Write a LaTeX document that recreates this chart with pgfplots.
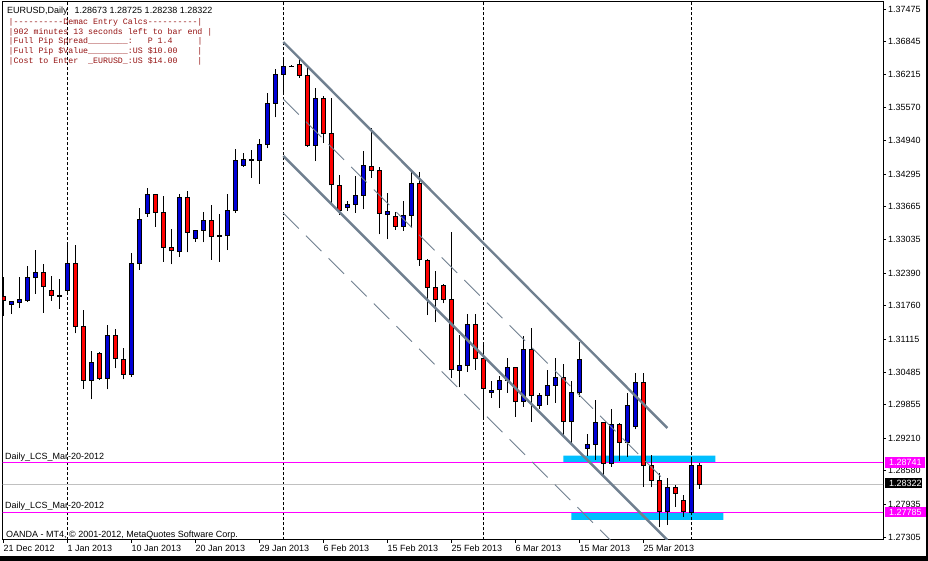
\documentclass[border=0pt]{standalone}
\usepackage{pgfplots}
\pgfplotsset{compat=1.18}
\usepackage{pgfplotstable}
\usepackage{fontspec}
\setmainfont{Liberation Sans}
\newfontfamily\monofont{Liberation Mono}
\definecolor{candleblue}{RGB}{0,0,215}
\definecolor{candlered}{RGB}{255,0,0}
\definecolor{chan}{RGB}{112,128,144}
\definecolor{mag}{RGB}{255,0,255}
\definecolor{skyb}{RGB}{0,191,255}
\definecolor{bidgray}{RGB}{192,192,192}
\definecolor{ind}{RGB}{150,20,20}
\newcommand\hy{-\kern0pt}

\pgfplotstableread{
x o h l c
1 1.31787 1.31857 1.31600 1.31832
2 1.31818 1.32319 1.31716 1.31870
3 1.31857 1.32525 1.31832 1.32307
4 1.32300 1.32833 1.31986 1.32404
8 1.32049 1.32993 1.32030 1.32577
11 1.30329 1.30888 1.29957 1.30662
13 1.30362 1.31389 1.30150 1.31190
16 1.30439 1.32770 1.30393 1.32577
17 1.32577 1.33636 1.32448 1.33411
18 1.33540 1.34022 1.33475 1.33906
22 1.32800 1.33906 1.32704 1.33848
24 1.33058 1.33220 1.32993 1.33213
25 1.33213 1.33559 1.32982 1.33405
28 1.33109 1.33906 1.32833 1.33598
29 1.33590 1.34773 1.33552 1.34561
30 1.34457 1.34696 1.34438 1.34580
32 1.34553 1.34971 1.34110 1.34869
33 1.34869 1.35857 1.34792 1.35659
34 1.35659 1.36314 1.35389 1.36217
35 1.36217 1.36493 1.35819 1.36371
39 1.34850 1.35959 1.34547 1.35755
43 1.33648 1.33777 1.33584 1.33713
44 1.33713 1.34258 1.33552 1.33887
45 1.33887 1.34740 1.33617 1.34451
48 1.33521 1.33937 1.33039 1.33579
50 1.33290 1.33783 1.33199 1.33502
51 1.33502 1.34330 1.33282 1.34118
57 1.30516 1.31196 1.30189 1.30612
58 1.30612 1.31595 1.30489 1.31402
61 1.30092 1.30310 1.29988 1.30131
62 1.30150 1.30412 1.29796 1.30323
63 1.30323 1.30759 1.30085 1.30574
65 1.29911 1.31177 1.29815 1.30907
67 1.29842 1.30073 1.29776 1.30035
68 1.30035 1.30522 1.29848 1.30227
69 1.30227 1.30747 1.29892 1.30368
71 1.29526 1.30310 1.29087 1.30092
72 1.30092 1.31067 1.30008 1.30728
73 1.29014 1.29293 1.28860 1.29091
74 1.29091 1.29940 1.28794 1.29514
76 1.28725 1.29771 1.28659 1.29476
78 1.29129 1.30073 1.28852 1.29842
79 1.29430 1.30458 1.29380 1.30285
83 1.27787 1.28436 1.27536 1.28262
86 1.27785 1.28821 1.27780 1.28673
}\bull

\pgfplotstableread{
x o h l c
0 1.31928 1.32313 1.31562 1.31851
5 1.32404 1.32564 1.31626 1.32126
6 1.32057 1.32332 1.31857 1.31953
7 1.31961 1.32269 1.31703 1.31947
9 1.32577 1.32930 1.31229 1.31356
10 1.31356 1.31678 1.30162 1.30329
12 1.30836 1.30869 1.30329 1.30362
14 1.31190 1.31312 1.30555 1.30734
15 1.30728 1.30940 1.30343 1.30439
19 1.33906 1.33912 1.33282 1.33559
20 1.33559 1.33873 1.32608 1.32877
21 1.32885 1.33238 1.32558 1.32814
23 1.33848 1.33970 1.32789 1.33174
26 1.33405 1.33700 1.32641 1.33089
27 1.33109 1.33521 1.32608 1.33097
31 1.34572 1.34753 1.34226 1.34561
36 1.36375 1.36387 1.36358 1.36365
37 1.36410 1.36551 1.36152 1.36190
38 1.36190 1.36333 1.34823 1.34842
40 1.35755 1.35794 1.34894 1.35081
41 1.35081 1.35767 1.33733 1.34085
42 1.34079 1.34278 1.33507 1.33598
46 1.34445 1.35189 1.34226 1.34368
47 1.34368 1.34432 1.33136 1.33540
49 1.33482 1.33565 1.33224 1.33290
52 1.34118 1.34330 1.32531 1.32641
53 1.32635 1.32660 1.31581 1.32115
54 1.32115 1.32429 1.31441 1.31884
55 1.32153 1.32172 1.31807 1.31884
56 1.31884 1.33186 1.30362 1.30522
59 1.31402 1.31595 1.30522 1.30734
60 1.30734 1.31017 1.29592 1.30169
64 1.30574 1.30580 1.29622 1.29911
66 1.30907 1.31337 1.29526 1.30021
70 1.30368 1.30637 1.29251 1.29526
75 1.29514 1.29520 1.28467 1.28725
77 1.29476 1.29495 1.28769 1.29129
80 1.30285 1.30458 1.28274 1.28673
81 1.28673 1.28879 1.28262 1.28397
82 1.28397 1.28532 1.27492 1.27787
84 1.28262 1.28307 1.27889 1.28147
85 1.28012 1.28114 1.27696 1.27792
87 1.28673 1.28725 1.28238 1.28322
}\bear

\begin{document}
\begin{tikzpicture}
\fill[white] (0,0) rectangle (928pt,561pt);
\begin{axis}[
  at={(2.7pt,21pt)}, anchor=south west,
  scale only axis, width=880.3pt, height=538.5pt,
  xmin=-0.075, xmax=109.96,
  ymin=1.272475, ymax=1.376195,
  axis line style={black, line width=1pt},
  tick align=outside,
  major tick length=3pt,
  tick style={black, line width=0.8pt},
  xtick pos=left, ytick pos=right,
  xticklabel pos=left, yticklabel pos=right,
  scaled y ticks=false, scaled x ticks=false,
  minor tick num=0,
  xtick={-0.05,7.95,15.95,23.95,31.95,39.95,47.95,55.95,63.95,71.95,79.95},
  xticklabels={21 Dec 2012,1 Jan 2013,10 Jan 2013,20 Jan 2013,29 Jan 2013,6 Feb 2013,15 Feb 2013,25 Feb 2013,6 Mar 2013,15 Mar 2013,25 Mar 2013},
  ytick={1.37475,1.36845,1.36215,1.35570,1.34940,1.34295,1.33665,1.33035,1.32390,1.31760,1.31115,1.30485,1.29855,1.29210,1.28580,1.27935,1.27305},
  yticklabels={1.37475,1.36845,1.36215,1.35570,1.34940,1.34295,1.33665,1.33035,1.32390,1.31760,1.31115,1.30485,1.29855,1.29210,1.28580,1.27935,1.27305},
  every tick label/.append style={font=\fontsize{9}{10}\selectfont, text=black},
  xticklabel style={anchor=north west, inner sep=0pt, xshift=0.5pt, yshift=-2pt},
  yticklabel style={anchor=west, inner sep=0pt, xshift=2pt},
]
% rectangles
\addplot[draw=none, fill=skyb] coordinates {(70,1.28741)(89,1.28741)(89,1.28871)(70,1.28871)(70,1.28741)};
\addplot[draw=none, fill=skyb] coordinates {(71,1.27633)(90,1.27633)(90,1.27785)(71,1.27785)(71,1.27633)};
% period separators
\addplot[black, line width=1pt, dash pattern=on 3pt off 2pt] coordinates {(8,1.2724)(8,1.3763)};
\addplot[black, line width=1pt, dash pattern=on 3pt off 2pt] coordinates {(35,1.2724)(35,1.3763)};
\addplot[black, line width=1pt, dash pattern=on 3pt off 2pt] coordinates {(60,1.2724)(60,1.3763)};
\addplot[black, line width=1pt, dash pattern=on 3pt off 2pt] coordinates {(86,1.2724)(86,1.3763)};
% horizontal lines
\addplot[bidgray, line width=1pt] coordinates {(-1,1.28322)(111,1.28322)};
\addplot[mag, line width=1pt] coordinates {(-1,1.28741)(111,1.28741)};
\addplot[mag, line width=1pt] coordinates {(-1,1.27785)(111,1.27785)};
% wicks
\addplot[black, line width=1pt, quiver={u=0, v={\thisrow{h}-\thisrow{l}}}] table[x=x, y=l] {\bull};
\addplot[black, line width=1pt, quiver={u=0, v={\thisrow{h}-\thisrow{l}}}] table[x=x, y=l] {\bear};
% bodies
\addplot[black, line width=5pt, quiver={u=0, v={abs(\thisrow{c}-\thisrow{o})+0.0001926}}] table[x=x, y expr={min(\thisrow{o},\thisrow{c})-0.0000963}] {\bull};
\addplot[candleblue, line width=3pt, quiver={u=0, v={max(abs(\thisrow{c}-\thisrow{o})-0.0001926,0)}}] table[x=x, y expr={min(\thisrow{o},\thisrow{c})+0.0000963}] {\bull};
\addplot[black, line width=5pt, quiver={u=0, v={abs(\thisrow{c}-\thisrow{o})+0.0001926}}] table[x=x, y expr={min(\thisrow{o},\thisrow{c})-0.0000963}] {\bear};
\addplot[candlered, line width=3pt, quiver={u=0, v={max(abs(\thisrow{c}-\thisrow{o})-0.0001926,0)}}] table[x=x, y expr={min(\thisrow{o},\thisrow{c})+0.0000963}] {\bear};
% channel
\addplot[chan, line width=2.4pt] coordinates {(35,1.36839)(83,1.29405)};
\addplot[chan, line width=2.4pt] coordinates {(35,1.34644)(83,1.27248)};
\addplot[chan, line width=0.9pt, dash pattern=on 22pt off 10pt] coordinates {(35,1.35742)(83,1.28345)};
\addplot[chan, line width=0.9pt, dash pattern=on 22pt off 10pt] coordinates {(35,1.33546)(83,1.26150)};
\end{axis}
% price labels on the right
\fill[mag] (885pt,93pt) rectangle (925pt,104pt);
\node[anchor=west, inner sep=0pt, text=white, font=\fontsize{9}{10}\selectfont] at (889pt,98.5pt) {1.28741};
\fill[black] (885pt,72.7pt) rectangle (922pt,82.7pt);
\node[anchor=west, inner sep=0pt, text=white, font=\fontsize{9}{10}\selectfont] at (889pt,77.7pt) {1.28322};
\fill[mag] (885pt,43.7pt) rectangle (926pt,54.3pt);
\node[anchor=west, inner sep=0pt, text=white, font=\fontsize{9}{10}\selectfont] at (889pt,49pt) {1.27785};
% window bands
\fill[black] (0,0) rectangle (928pt,5pt);
\fill[black] (926pt,0) rectangle (928pt,561pt);
% texts
\node[anchor=west, inner sep=0pt, font=\fontsize{9}{10}\selectfont] at (7pt,550pt) {EURUSD,Daily\hspace{7pt}1.28673 1.28725 1.28238 1.28322};
\begin{scope}[every node/.style={anchor=west, inner sep=0pt, text=ind, font=\monofont\fontsize{8.28}{9}\selectfont}]
\node at (8.5pt,538.7pt) {|\hy\hy\hy\hy\hy\hy\hy\hy\hy\hy Demac~Entry~Calcs\hy\hy\hy\hy\hy\hy\hy\hy\hy\hy|};
\node at (8.5pt,528.95pt) {|902~minutes~13~seconds~left~to~bar~end~|};
\node at (8.5pt,519.2pt) {|Full~Pip~Spread\_\_\_\_\_\_\_\_:~~~P~1.4~~~~~|};
\node at (8.5pt,509.45pt) {|Full~Pip~\$Value\_\_\_\_\_\_\_\_:US~\$10.00~~~~|};
\node at (8.5pt,499.7pt) {|Cost~to~Enter~~\_EURUSD\_:US~\$14.00~~~~|};
\end{scope}
\node[anchor=west, inner sep=0pt, font=\fontsize{9}{10}\selectfont] at (5pt,103.5pt) {Daily\_LCS\_Mar-20-2012};
\node[anchor=west, inner sep=0pt, font=\fontsize{9}{10}\selectfont] at (5pt,54.5pt) {Daily\_LCS\_Mar-20-2012};
\node[anchor=west, inner sep=0pt, font=\fontsize{9}{10}\selectfont] at (6pt,25.5pt) {OANDA - MT4, © 2001-2012, MetaQuotes Software Corp.};
\pgfresetboundingbox
\path (0,0) rectangle (928pt,561pt);
\end{tikzpicture}
\end{document}
